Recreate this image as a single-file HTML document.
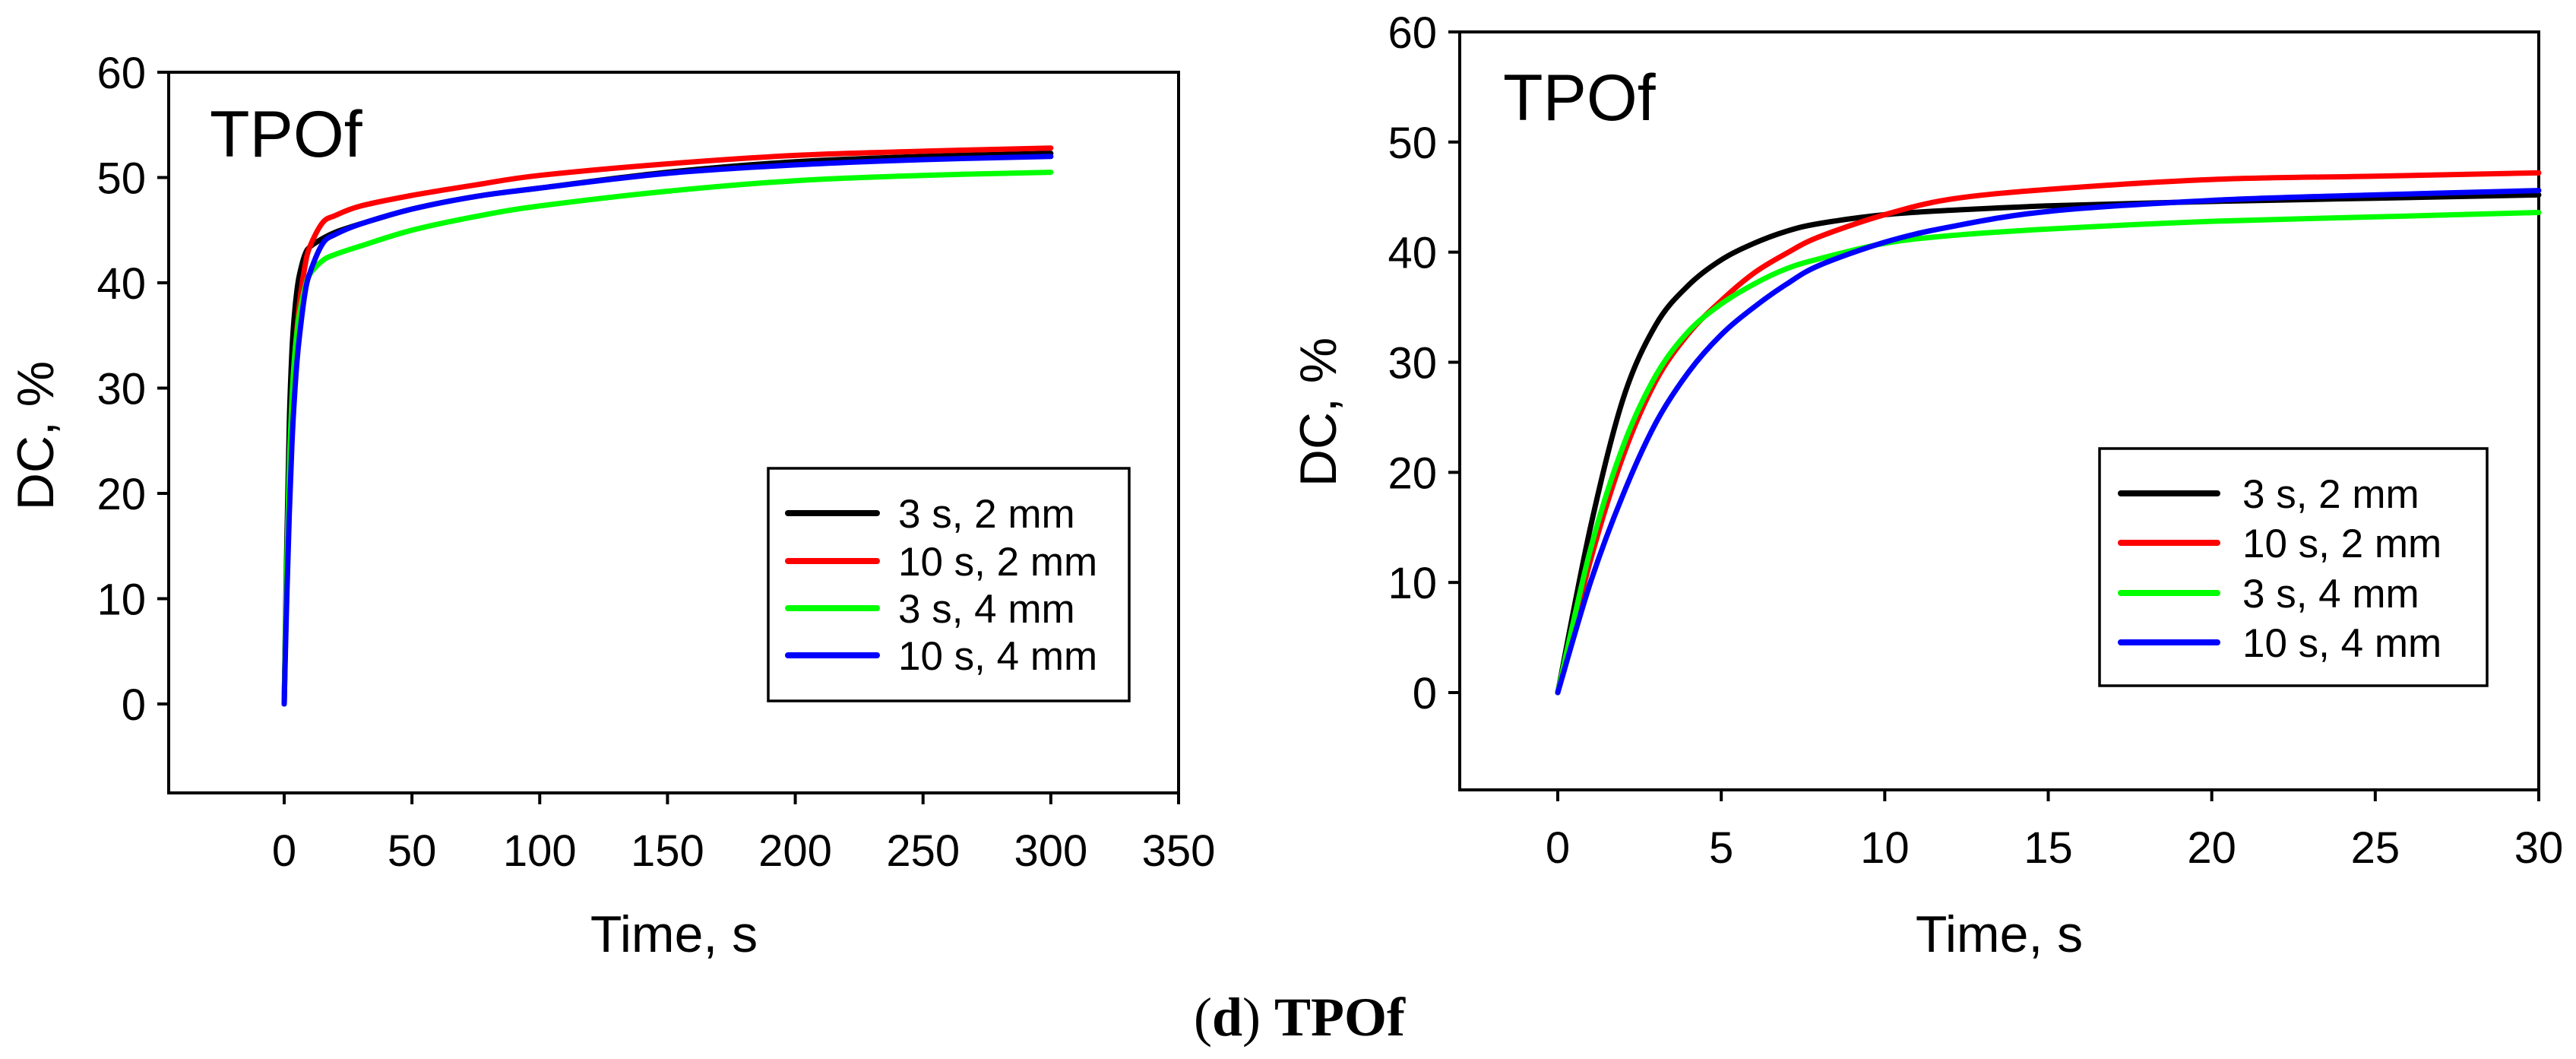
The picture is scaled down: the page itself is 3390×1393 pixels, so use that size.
<!DOCTYPE html>
<html><head><meta charset="utf-8"><style>
html,body{margin:0;padding:0;background:#fff;}
svg{display:block;}
text{font-family:"Liberation Sans",Arial,sans-serif;fill:#000;}
</style></head><body>
<svg id="fig" width="3390" height="1393" viewBox="0 0 3390 1393" xmlns="http://www.w3.org/2000/svg">
<text x="1710" y="1362" text-anchor="middle" style="font-family:'Liberation Serif',serif;font-size:72px;">(<tspan font-weight="bold">d</tspan>) <tspan font-weight="bold">TPOf</tspan></text>
</svg>
<script>
const seriesNames = ["3 s, 2 mm","10 s, 2 mm","3 s, 4 mm","10 s, 4 mm"];
const seriesColors = ["#000000","#ff0000","#00ff00","#0000ff"];
const seriesKeys = ["black-3s-2mm","red-10s-2mm","green-3s-4mm","blue-10s-4mm"];
// Left chart (0-300 s)
const timeLeft = [0,1,2,3,4,5,6,8,10,15,20,30,50,75,100,150,200,250,300];
const dcLeft3s2 = [0,15,26.7,33.4,37,39.3,40.8,42.6,43.4,44.2,44.8,45.6,47,48.2,49,50.5,51.5,52,52.3];
const dcLeft10s2 = [0,12,21.5,28.3,32.6,35.6,38.1,41.4,43.4,45.7,46.4,47.3,48.3,49.3,50.2,51.3,52.1,52.5,52.8];
const dcLeft3s4 = [0,13,22.4,28.8,32.8,35.3,37.1,39.4,40.8,42.1,42.7,43.5,45,46.3,47.3,48.7,49.7,50.2,50.5];
const dcLeft10s4 = [0,10,18,24.5,29.1,32.5,35,38.8,40.9,43.7,44.6,45.6,47,48.2,49,50.4,51.2,51.7,52];
const xTicksLeft = [0,50,100,150,200,250,300,350];
// Right chart (0-30 s)
const timeRight = [0,1,2,3,4,5,6,7,8,10,12,15,20,25,30];
const dcRight3s2 = [0,15,26.7,33.4,37,39.3,40.8,41.9,42.6,43.4,43.8,44.2,44.6,44.9,45.2];
const dcRight10s2 = [0,12,21.5,28.3,32.6,35.6,38.1,39.9,41.4,43.4,44.8,45.7,46.6,46.9,47.2];
const dcRight3s4 = [0,13,22.4,28.8,32.8,35.3,37.1,38.5,39.4,40.8,41.5,42.1,42.8,43.2,43.6];
const dcRight10s4 = [0,10,18,24.5,29.1,32.5,35,37.1,38.8,40.9,42.3,43.7,44.7,45.2,45.6];
const xTicksRight = [0,5,10,15,20,25,30];
const yTicks = [0,10,20,30,40,50,60];

const NS="http://www.w3.org/2000/svg";
const svg=document.getElementById('fig');
function mk(tag,attrs,parent){const e=document.createElementNS(NS,tag);for(const k in attrs)e.setAttribute(k,attrs[k]);(parent||svg).appendChild(e);return e;}

function chart(cfg){
  const g=mk('g',{});
  
  
  const X=v=>cfg.x0+(v-0)*(cfg.x1px-cfg.x0)/cfg.xMaxTick;
  const Y=v=>cfg.y0-v*(cfg.y0-cfg.y60)/60;
  const fr=mk('rect',{x:cfg.L,y:cfg.T,width:cfg.R-cfg.L,height:cfg.B-cfg.T,fill:'none',stroke:'#000','stroke-width':4},g);
  
  
  yTicks.forEach(v=>{
    const t=mk('line',{x1:cfg.L-15,x2:cfg.L,y1:Y(v),y2:Y(v),stroke:'#000','stroke-width':4},g);
    
    
    const l=mk('text',{x:cfg.L-30,y:Y(v)+21,'text-anchor':'end','font-size':58},g);
    l.textContent=v;
    
    
  });
  cfg.xTicks.forEach(v=>{
    const t=mk('line',{x1:X(v),x2:X(v),y1:cfg.B,y2:cfg.B+15,stroke:'#000','stroke-width':4},g);
    
    
    const l=mk('text',{x:X(v),y:cfg.B+96,'text-anchor':'middle','font-size':58},g);
    l.textContent=v;
    
    
  });
  const xt=mk('text',{x:cfg.xTitleX,y:1252,'text-anchor':'middle','font-size':68},g);
  xt.textContent='Time, s';
  
  
  const yt=mk('text',{x:0,y:0,'text-anchor':'middle','font-size':68,transform:`translate(${cfg.yTitleX},${cfg.yTitleY}) rotate(-90)`},g);
  yt.textContent='DC, %';
  
  
  const pl=mk('text',{x:cfg.labX,y:cfg.labY,'font-size':86},g);
  pl.textContent='TPOf';
  
  
  cfg.series.forEach((vals,i)=>{
    const pts=cfg.t.map((t,j)=>[X(t),Y(vals[j])]);
    let d='M'+pts[0][0].toFixed(1)+','+pts[0][1].toFixed(1);
    for(let j=0;j<pts.length-1;j++){
      const p0=pts[Math.max(0,j-1)],p1=pts[j],p2=pts[j+1],p3=pts[Math.min(pts.length-1,j+2)];
      const c1=[p1[0]+(p2[0]-p0[0])/6,p1[1]+(p2[1]-p0[1])/6];
      const c2=[p2[0]-(p3[0]-p1[0])/6,p2[1]-(p3[1]-p1[1])/6];
      d+=` C${c1[0].toFixed(1)},${c1[1].toFixed(1)} ${c2[0].toFixed(1)},${c2[1].toFixed(1)} ${p2[0].toFixed(1)},${p2[1].toFixed(1)}`;
    }
    const p=mk('path',{d:d,fill:'none',stroke:seriesColors[i],'stroke-width':7,'stroke-linecap':'round','stroke-linejoin':'round'},g);
    
    
  });
  const lg=mk('g',{},g);
  
  
  mk('rect',{x:cfg.lgL,y:cfg.lgT,width:cfg.lgR-cfg.lgL,height:cfg.lgB-cfg.lgT,fill:'#fff',stroke:'#000','stroke-width':3.5},lg);
  seriesNames.forEach((n,i)=>{
    const y=cfg.lgY[i];
    const e=mk('g',{},lg);
    
    
    mk('line',{x1:cfg.lgLine0,x2:cfg.lgLine1,y1:y,y2:y,stroke:seriesColors[i],'stroke-width':8,'stroke-linecap':'round'},e);
    const tx=mk('text',{x:cfg.lgText,y:y+19,'font-size':53},e);
    tx.textContent=n;
  });
}

chart({name:'left-chart',L:222,R:1551,T:95,B:1043,x0:374,x1px:1551,xMaxTick:350,y0:926,y60:95,
  xTicks:xTicksLeft,t:timeLeft,series:[dcLeft3s2,dcLeft10s2,dcLeft3s4,dcLeft10s4],
  xTitleX:887,yTitleX:70,yTitleY:573,labX:276,labY:206,
  lgL:1011,lgR:1486,lgT:616,lgB:922,lgY:[675,738,800,862],lgLine0:1037,lgLine1:1154,lgText:1182});
chart({name:'right-chart',L:1921,R:3341,T:42,B:1039,x0:2050,x1px:3341,xMaxTick:30,y0:911,y60:42,
  xTicks:xTicksRight,t:timeRight,series:[dcRight3s2,dcRight10s2,dcRight3s4,dcRight10s4],
  xTitleX:2631,yTitleX:1758,yTitleY:542,labX:1978,labY:158,
  lgL:2763,lgR:3273,lgT:590,lgB:902,lgY:[649,714,780,845],lgLine0:2791,lgLine1:2918,lgText:2951});
</script>
</body></html>
